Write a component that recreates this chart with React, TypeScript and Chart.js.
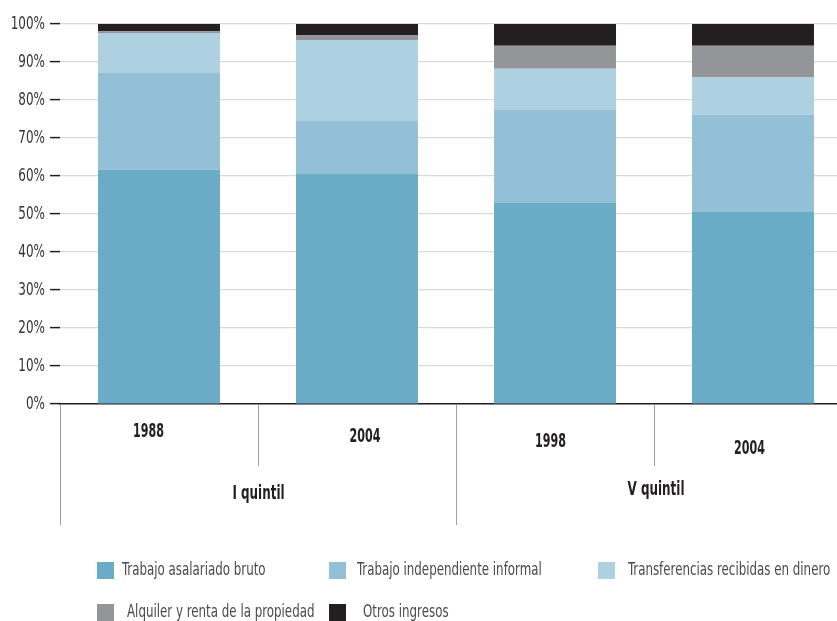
import React, { useEffect, useRef } from "react";
import { Chart, registerables } from "chart.js";

Chart.register(...registerables);

// ---- data ----
const years = ["1988", "2004", "1998", "2004"];
const groups = ["I quintil", "V quintil"];
const seriesNames = [
  "Trabajo asalariado bruto",
  "Trabajo independiente informal",
  "Transferencias recibidas en dinero",
  "Alquiler y renta de la propiedad",
  "Otros ingresos",
];
const asalariado = [61.7, 60.5, 52.9, 50.5];
const independiente = [25.4, 14.0, 24.5, 25.7];
const transferencias = [10.5, 21.3, 10.8, 9.7];
const alquiler = [0.5, 1.3, 6.1, 8.4];
const otros = [1.9, 2.9, 5.7, 5.7];
const yTickValues = [0, 10, 20, 30, 40, 50, 60, 70, 80, 90, 100];

// ---- styles ----
const FONT = '"DejaVu Sans Condensed", "Liberation Sans Narrow", "Liberation Sans", sans-serif';
const colors = ["#6aabc8", "#93c0d7", "#aed1e1", "#939598", "#231f20"];

// label nudges (layout only)
const yearNudges = [
  [-10.5, 28],
  [8, 33],
  [-4.5, 38],
  [-3.5, 45],
];
const groupNudges = [
  [0.5, 90],
  [2, 86],
];
const legendLayout = [
  { bx: 97, by: 562, tx: 122 },
  { bx: 329, by: 562, tx: 357 },
  { bx: 598, by: 562, tx: 628 },
  { bx: 97, by: 604, tx: 127 },
  { bx: 329, by: 604, tx: 363 },
];

function condensedText(
  ctx: CanvasRenderingContext2D,
  text: string,
  x: number,
  y: number,
  align: CanvasTextAlign,
  sx: number
) {
  ctx.save();
  ctx.translate(x, y);
  ctx.scale(sx, 1);
  ctx.textAlign = align;
  ctx.textBaseline = "middle";
  ctx.fillText(text, 0, 0);
  ctx.restore();
}

const annotPlugin = {
  id: "annot",
  afterDraw(chart: any) {
    const ctx = chart.ctx as CanvasRenderingContext2D;
    const xs = chart.scales.x;
    const ys = chart.scales.y;
    const base = chart.chartArea.bottom;
    const catW = xs.getPixelForValue(1) - xs.getPixelForValue(0);
    ctx.save();
    // y tick labels
    ctx.fillStyle = "#333333";
    ctx.font = `18px ${FONT}`;
    yTickValues.forEach((v) => {
      condensedText(ctx, `${v}%`, ys.right - 15, ys.getPixelForValue(v), "right", 0.74);
    });
    // separators
    ctx.strokeStyle = "#a0a0a0";
    ctx.lineWidth = 1;
    for (let i = 0; i < years.length; i++) {
      const bx = Math.round(xs.getPixelForValue(i) - catW / 2) + 0.5;
      const long = i % 2 === 0;
      ctx.beginPath();
      ctx.moveTo(bx, base + 1);
      ctx.lineTo(bx, base + (long ? 121 : 62));
      ctx.stroke();
    }
    // year labels
    ctx.fillStyle = "#231f20";
    ctx.font = `bold 19px ${FONT}`;
    years.forEach((y, i) => {
      const cx = xs.getPixelForValue(i);
      condensedText(ctx, y, cx + yearNudges[i][0], base + yearNudges[i][1], "center", 0.65);
    });
    // group labels
    groups.forEach((g, gi) => {
      const cx = (xs.getPixelForValue(gi * 2) + xs.getPixelForValue(gi * 2 + 1)) / 2;
      condensedText(ctx, g, cx + groupNudges[gi][0], base + groupNudges[gi][1], "center", 0.7);
    });
    // legend
    ctx.font = `17px ${FONT}`;
    chart.data.datasets.forEach((ds: any, i: number) => {
      const L = legendLayout[i];
      ctx.fillStyle = ds.backgroundColor;
      ctx.fillRect(L.bx, L.by, 17, 17);
      ctx.fillStyle = "#4a4a4a";
      condensedText(ctx, ds.label, L.tx, L.by + 8.5, "left", 0.775);
    });
    ctx.restore();
  },
};

export default function App() {
  const ref = useRef<HTMLCanvasElement | null>(null);
  useEffect(() => {
    if (!ref.current) return;
    const seriesData = [asalariado, independiente, transferencias, alquiler, otros];
    const chart = new Chart(ref.current, {
      type: "bar",
      data: {
        labels: years,
        datasets: seriesNames.map((name, i) => ({
          label: name,
          data: seriesData[i],
          backgroundColor: colors[i],
          borderWidth: 0,
          categoryPercentage: 1,
          barPercentage: 0.616,
        })),
      },
      options: {
        responsive: false,
        animation: false,
        events: [],
        layout: { padding: { top: 24, left: 0, right: 0, bottom: 0 } },
        plugins: { legend: { display: false }, tooltip: { enabled: false } },
        scales: {
          x: {
            stacked: true,
            grid: { display: false },
            border: { display: true, color: "#231f20", width: 1.5 },
            ticks: { display: false },
            afterFit: (s: any) => {
              s.height = 217;
            },
          },
          y: {
            stacked: true,
            min: 0,
            max: 100,
            afterBuildTicks: (s: any) => {
              s.ticks = yTickValues.map((v) => ({ value: v }));
            },
            ticks: { display: false },
            grid: {
              color: "#d9d9d9",
              lineWidth: 1.2,
              tickColor: "#231f20",
              tickLength: 10,
              tickWidth: 1.5,
            },
            border: { display: false },
            afterFit: (s: any) => {
              s.width = 60;
            },
          },
        },
      },
      plugins: [annotPlugin],
    });
    return () => chart.destroy();
  }, []);
  return (
    <div
      style={{
        position: "absolute",
        left: 0,
        top: 0,
        width: 837,
        height: 621,
        overflow: "hidden",
        background: "#ffffff",
      }}
    >
      <canvas ref={ref} width={852} height={621} style={{ display: "block" }} />
    </div>
  );
}
